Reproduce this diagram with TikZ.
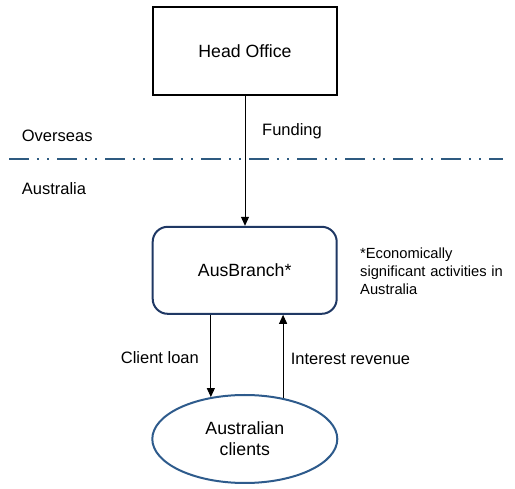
\documentclass[tikz,border=0pt]{standalone}
\usepackage{fontspec}
\setmainfont{Liberation Sans}
\usetikzlibrary{arrows.meta,shapes.geometric}
\definecolor{abcol}{HTML}{1F3864}
\definecolor{ellcol}{HTML}{2E5B8C}
\definecolor{dashcol}{HTML}{2E5A80}
\tikzset{
  boxlabel/.style={font=\fontsize{17.7}{21}\selectfont},
  hobox/.style={draw=black, line width=2pt, minimum width=184pt, minimum height=88pt, boxlabel},
  abbox/.style={draw=abcol, line width=2pt, rounded corners=15pt, minimum width=184pt, minimum height=87pt, boxlabel},
  ellbox/.style={ellipse, draw=ellcol, line width=2pt, minimum width=185pt, minimum height=88pt, inner sep=0pt, align=center, boxlabel},
  annot/.style={font=\fontsize{16.5}{20}\selectfont, anchor=west, inner sep=0pt},
  notetext/.style={font=\fontsize{14.7}{18}\selectfont, anchor=west, inner sep=0pt, align=left},
  arr/.style={-{Triangle[length=9pt,width=8pt]}, line width=1pt, black},
  sepline/.style={draw=dashcol, line width=2pt, dash pattern=on 20pt off 7.5pt on 2pt off 8.5pt on 2pt off 8pt}
}
\begin{document}
\begin{tikzpicture}[x=1pt,y=-1pt]
\useasboundingbox (0,0) rectangle (515,489);
\fill[white] (0,0) rectangle (515,489);

\node[hobox] (ho) at (245,51) {Head Office};
\node[abbox] (ab) at (244.7,270.3) {AusBranch*};
\node[ellbox] (ell) at (244.8,439) {Australian\\clients};

\coordinate (sepL) at (9.3,159.3);
\coordinate (sepR) at (503,159.3);
\draw[sepline] (sepL) -- (sepR);

\node[annot] (over) at (21.7,136) {Overseas};
\node[annot] (aus) at (21.7,189) {Australia};
\node[annot] (fund) at (262,131.7) {Funding};
\node[annot] (cl) at (120.7,358) {Client loan};
\node[annot] (ir) at (290.7,359) {Interest revenue};
\node[notetext] (note) at (360,271) {*Economically\\\makebox[142.7pt][s]{significant activities in}\\Australia};

\draw[arr] (ho.south) -- (ho.south |- ab.north);
\draw[arr] (ab.south -| ell.129) -- (ell.129);
\draw[arr] (ell.47) -- (ell.47 |- ab.south);
\end{tikzpicture}
\end{document}
